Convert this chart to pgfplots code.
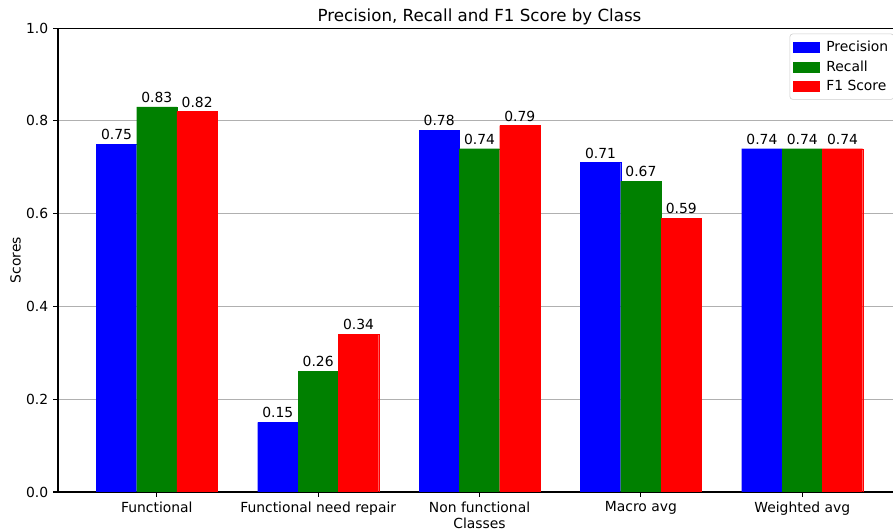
\documentclass[border=0pt]{standalone}
\usepackage{fontspec}
\setmainfont{DejaVu Sans}
\usepackage{pgfplots}
\pgfplotsset{compat=1.18}
\definecolor{mplgreen}{rgb}{0,0.502,0}
\begin{document}
\fontsize{10}{12}\selectfont
\begin{tikzpicture}
\begin{axis}[
  name=ax,
  at={(0,0)}, anchor=south west,
  scale only axis, width=607pt, height=334pt,
  ybar=0pt, bar width=0.25,
  ymin=0, ymax=1, xmin=-0.6125, xmax=4.6125,
  ytick={0,0.2,0.4,0.6,0.8,1.0},
  yticklabel style={/pgf/number format/fixed,/pgf/number format/zerofill,/pgf/number format/precision=1},
  /pgf/number format/assume math mode=true,
  xtick={0,1,2,3,4},
  xticklabels={Functional,Functional need repair,Non functional,Macro avg,Weighted avg},
  tick align=outside, major tick length=3.5pt,
  xtick pos=bottom, ytick pos=left,
  tick style={line width=0.8pt, black},
  ymajorgrids, grid style={color=black!31, line width=0.8pt},
  axis line style={line width=0.8pt},
  ticklabel style={font=\fontsize{10}{12}\selectfont},
  title={Precision, Recall and F1 Score by Class},
  title style={font=\fontsize{12}{14}\selectfont, yshift=-7pt},
  xlabel={Classes}, ylabel={Scores},
  label style={font=\fontsize{10}{12}\selectfont},
  xlabel style={yshift=5pt},
  ylabel style={yshift=-3pt},
  legend style={at={(1,1)}, anchor=north east, xshift=-5pt, yshift=-4pt,
    draw=black!20, rounded corners=2pt, fill=white,
    font=\fontsize{10}{12}\selectfont, row sep=1pt, inner xsep=2pt, inner ysep=3pt,
    /tikz/every even column/.append style={column sep=0pt}},
  legend cell align=left,
  legend image code/.code={\fill[#1, sharp corners] (0pt,-3.5pt) rectangle (19pt,3.5pt);},
  every node near coord/.append style={font=\fontsize{10}{12}\selectfont, inner sep=0pt, yshift=3pt, black},
  nodes near coords={\pgfmathprintnumber[fixed,zerofill,precision=2]{\pgfplotspointmeta}},
]
\addplot[fill=blue, draw=blue, line width=0.2pt]
  coordinates {(0,0.75) (1,0.15) (2,0.78) (3,0.71) (4,0.74)};
\addlegendentry{\hspace{3pt}Precision}
\addplot[fill=mplgreen, draw=mplgreen, line width=0.2pt]
  coordinates {(0,0.83) (1,0.26) (2,0.74) (3,0.67) (4,0.74)};
\addlegendentry{\hspace{3pt}Recall}
\addplot[fill=red, draw=red, line width=0.2pt]
  coordinates {(0,0.82) (1,0.34) (2,0.79) (3,0.59) (4,0.74)};
\addlegendentry{\hspace{3pt}F1 Score}
\end{axis}
\pgfresetboundingbox
\path[use as bounding box] ([xshift=-41.76pt, yshift=-28.8pt]ax.south west) rectangle ([xshift=601.2pt, yshift=354.24pt]ax.south west);
\end{tikzpicture}
\end{document}
